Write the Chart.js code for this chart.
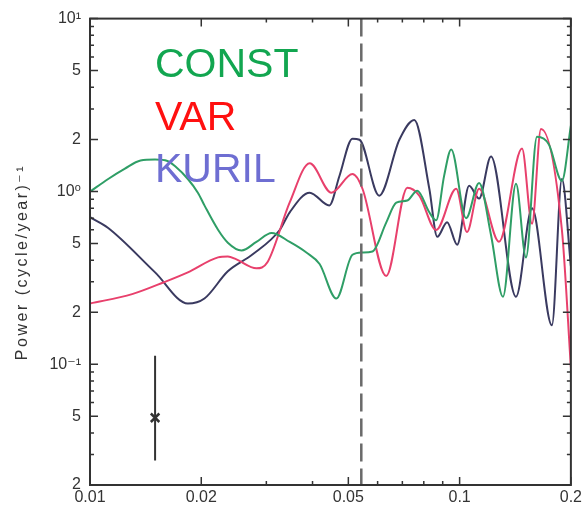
<!DOCTYPE html>
<html>
<head>
<meta charset="utf-8">
<script src="https://cdn.jsdelivr.net/npm/chart.js@4.4.1/dist/chart.umd.min.js"></script>
<style>
  html, body { margin: 0; padding: 0; background: #fff; }
</style>
</head>
<body>
<canvas id="espectro" width="585" height="510"></canvas>
<script>
// frequências (ciclo/ano) e potência de cada série
var constFreq = [0.0100, 0.0112, 0.0124, 0.0137, 0.0150, 0.0162, 0.0170, 0.0184, 0.0196, 0.0204,
                 0.0222, 0.0236, 0.0257, 0.0282, 0.0310, 0.0347, 0.0385, 0.0418, 0.0464, 0.0513,
                 0.0546, 0.0581, 0.0633, 0.0674, 0.0722, 0.0768, 0.0828, 0.0864, 0.0908, 0.0949,
                 0.1041, 0.1129, 0.1216, 0.1310, 0.1421, 0.1512, 0.1619, 0.1744, 0.1891, 0.2000]
var constPow  = [0.996, 1.18, 1.35, 1.51, 1.53, 1.50, 1.40, 1.18, 0.98, 0.83,
                 0.60, 0.505, 0.455, 0.51, 0.575, 0.51, 0.443, 0.38, 0.24, 0.43,
                 0.443, 0.449, 0.66, 0.86, 0.886, 1.01, 0.757, 0.68, 1.23, 1.75,
                 0.70, 1.12, 0.56, 0.246, 1.106, 0.415, 2.07, 1.87, 1.15, 2.4]

var varFreq = [0.0100, 0.0130, 0.0159, 0.0184, 0.0222, 0.0236, 0.0249, 0.0282, 0.0302, 0.0347,
               0.0393, 0.0450, 0.0513, 0.0546, 0.0633, 0.0722, 0.0778, 0.0864, 0.0979, 0.1047,
               0.1129, 0.1278, 0.1475, 0.1570, 0.1660, 0.1891, 0.2000]
var varPow  = [0.2245, 0.2545, 0.299, 0.34, 0.415, 0.42, 0.404, 0.359, 0.389, 0.863,
               1.455, 0.983, 1.26, 1.036, 0.324, 1.05, 0.945, 0.598, 1.036, 0.583,
               1.036, 0.512, 1.77, 0.65, 2.30, 0.60, 0.096]

var kurilFreq = [0.0100, 0.0112, 0.0150, 0.0184, 0.0204, 0.0236, 0.0275, 0.0326, 0.0347, 0.0393,
                 0.0444, 0.0473, 0.0513, 0.0536, 0.0606, 0.0687, 0.0754, 0.0828, 0.0870, 0.0925,
                 0.0985, 0.1061, 0.1129, 0.1216, 0.1421, 0.1570, 0.1777, 0.1891, 0.2000]
var kurilPow  = [0.709, 0.614, 0.34, 0.2245, 0.240, 0.345, 0.431, 0.598, 0.757, 0.983,
                 0.829, 1.228, 2.02, 1.99, 0.945, 1.99, 2.59, 1.036, 0.546, 0.664,
                 0.492, 1.077, 0.909, 1.594, 0.246, 0.798, 0.168, 1.18, 0.37]

// barra de erro (intervalo de confiança) e linha tracejada
var erroFreq = 0.015
var erroCentro = 0.049
var erroMin = 0.0277
var erroMax = 0.112
var linhaTracejada = 0.0542

// ticks dos eixos
var xTickVals = [0.01, 0.02, 0.03, 0.04, 0.05, 0.06, 0.07, 0.08, 0.09, 0.1, 0.2]
var xTickLabels = ['0.01', '0.02', '', '', '0.05', '', '', '', '', '0.1', '0.2']
var yTickVals = [0.02, 0.03, 0.04, 0.05, 0.06, 0.07, 0.08, 0.09,
                 0.1, 0.2, 0.3, 0.4, 0.5, 0.6, 0.7, 0.8, 0.9,
                 1, 2, 3, 4, 5, 6, 7, 8, 9, 10]
var yTickLabels = ['2', '', '', '5', '', '', '', '',
                   '10\u207B\u00B9', '2', '', '', '5', '', '', '', '',
                   '10\u2070', '2', '', '', '5', '', '', '', '', '10\u00B9']

var legendaNomes = ['CONST', 'VAR', 'KURIL']
var legendaCores = ['#12a650', '#ff1010', '#6e6ed2']

var fonte = '"Liberation Sans", "DejaVu Sans", sans-serif'

function pontos(freq, pow) {
  return freq.map((f, i) => ({ x: f, y: pow[i] }))
}

function serie(freq, pow, cor) {
  return {
    data: pontos(freq, pow),
    showLine: true,
    borderColor: cor,
    borderWidth: 2,
    pointRadius: 0,
    cubicInterpolationMode: 'monotone'
  }
}

// moldura com ticks para dentro, linha tracejada e textos
var moldura = {
  id: 'moldura',
  afterDatasetsDraw(chart) {
    const ctx = chart.ctx
    const a = chart.chartArea
    const sx = chart.scales.x
    const sy = chart.scales.y
    ctx.save()

    // linha tracejada vertical
    const xd = sx.getPixelForValue(linhaTracejada)
    ctx.strokeStyle = '#6a6a6a'
    ctx.lineWidth = 2.5
    ctx.setLineDash([18, 7])
    ctx.beginPath()
    ctx.moveTo(xd, a.top)
    ctx.lineTo(xd, a.bottom)
    ctx.stroke()
    ctx.setLineDash([])

    ctx.strokeStyle = '#333'
    ctx.lineWidth = 2
    ctx.strokeRect(a.left, a.top, a.right - a.left, a.bottom - a.top)

    ctx.lineWidth = 1.5
    yTickVals.forEach((v, i) => {
      const y = sy.getPixelForValue(v)
      const len = yTickLabels[i] ? 8 : 4
      ctx.beginPath()
      ctx.moveTo(a.left, y); ctx.lineTo(a.left + len, y)
      ctx.moveTo(a.right, y); ctx.lineTo(a.right - len, y)
      ctx.stroke()
    })
    xTickVals.forEach((v, i) => {
      const x = sx.getPixelForValue(v)
      const len = xTickLabels[i] ? 8 : 4
      ctx.beginPath()
      ctx.moveTo(x, a.bottom); ctx.lineTo(x, a.bottom - len)
      ctx.moveTo(x, a.top); ctx.lineTo(x, a.top + len)
      ctx.stroke()
    })

    // titulo do eixo y
    ctx.translate(23, 262)
    ctx.rotate(-Math.PI / 2)
    ctx.font = '16px ' + fonte
    ctx.letterSpacing = '2.5px'
    ctx.fillStyle = '#333'
    ctx.textAlign = 'center'
    ctx.textBaseline = 'middle'
    ctx.fillText('Power (cycle/year)\u207B\u00B9', 0, 0)
    ctx.restore()

    // legenda grande
    ctx.save()
    ctx.font = '41px ' + fonte
    ctx.textAlign = 'left'
    ctx.textBaseline = 'alphabetic'
    legendaNomes.forEach((nome, i) => {
      ctx.fillStyle = legendaCores[i]
      ctx.fillText(nome, 155, 77 + i * 52.5)
    })
    ctx.restore()
  }
}

var js_espectro = document.getElementById('espectro')

new Chart(js_espectro, {
  type: 'scatter',
  data: {
    datasets: [
      serie(constFreq, constPow, '#2f9e66'),
      serie(varFreq, varPow, '#e8406c'),
      serie(kurilFreq, kurilPow, '#3a3a60'),
      {
        data: [{ x: erroFreq, y: erroMin }, { x: erroFreq, y: erroMax }],
        showLine: true,
        borderColor: '#333',
        borderWidth: 2,
        pointRadius: 0
      },
      {
        data: [{ x: erroFreq, y: erroCentro }],
        pointStyle: 'crossRot',
        pointRadius: 6,
        borderColor: '#333',
        borderWidth: 2.5
      }
    ]
  },
  options: {
    responsive: false,
    devicePixelRatio: 1,
    animation: false,
    layout: { padding: { left: 0, right: 13, top: 9, bottom: 0 } },
    plugins: {
      legend: { display: false },
      tooltip: { enabled: false }
    },
    scales: {
      x: {
        type: 'logarithmic',
        min: 0.01,
        max: 0.2,
        grid: { display: false, drawTicks: false },
        border: { display: false },
        afterBuildTicks: (s) => { s.ticks = xTickVals.map(v => ({ value: v })) },
        afterFit: (s) => { s.height = 25 },
        ticks: {
          autoSkip: false,
          maxRotation: 0,
          padding: 3,
          color: '#333',
          font: { family: fonte, size: 16 },
          callback: (v, i) => xTickLabels[i]
        }
      },
      y: {
        type: 'logarithmic',
        min: 0.02,
        max: 10,
        grid: { display: false, drawTicks: false },
        border: { display: false },
        afterBuildTicks: (s) => { s.ticks = yTickVals.map(v => ({ value: v })) },
        afterFit: (s) => { s.width = 90 },
        ticks: {
          autoSkip: false,
          padding: 9,
          color: '#333',
          font: { family: fonte, size: 16 },
          callback: (v, i) => yTickLabels[i]
        }
      }
    }
  },
  plugins: [moldura]
})
</script>
</body>
</html>
